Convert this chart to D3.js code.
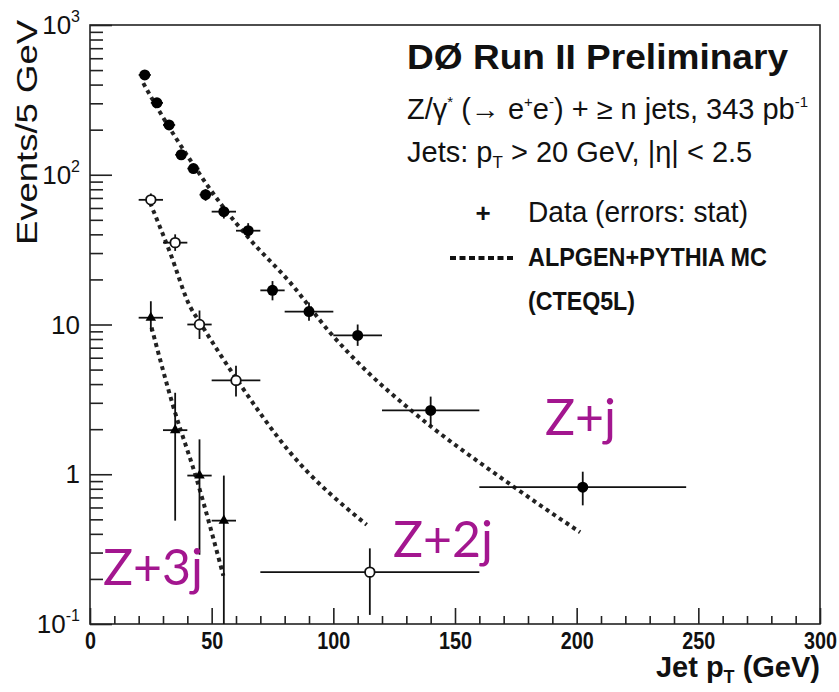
<!DOCTYPE html>
<html><head><meta charset="utf-8">
<script src="https://cdn.jsdelivr.net/npm/d3@7"></script>
<style>
html,body{margin:0;padding:0;background:#fff;}
svg{display:block;font-family:"Liberation Sans",Arial,sans-serif;}
</style></head>
<body><svg id="c" width="839" height="692"></svg>
<script>
// ---------- data ----------
// Z + >=1 jet (filled circles)
const z1X   = [22.5, 27.5, 32.5, 37.5, 42.5, 47.5, 55, 65, 75, 90, 110, 140, 202.5];
const z1XLo = [20, 25, 30, 35, 40, 45, 50, 60, 70, 80, 100, 120, 160];
const z1XHi = [25, 30, 35, 40, 45, 50, 60, 70, 80, 100, 120, 160, 245];
const z1Y   = [464, 302, 215, 136, 110, 73.6, 56.7, 42.3, 16.9, 12.2, 8.45, 2.67, 0.82];
const z1YLo = [440, 285, 202, 127, 102, 67, 51, 37.5, 14.5, 10.6, 7.2, 2.1, 0.62];
const z1YHi = [490, 320, 228, 146, 118, 80, 62, 47.5, 19.5, 14.0, 10.0, 3.3, 1.04];
// Z + >=2 jets (open circles)
const z2X   = [25, 35, 45, 60, 115];
const z2XLo = [20, 30, 40, 50, 70];
const z2XHi = [30, 40, 50, 70, 160];
const z2Y   = [68, 35.2, 10.0, 4.23, 0.222];
const z2YLo = [62, 31, 8.0, 3.3, 0.115];
const z2YHi = [75, 40, 12.4, 5.3, 0.32];
// Z + >=3 jets (small filled markers)
const z3X   = [25, 35, 45, 55];
const z3XLo = [20, 30, 40, 50];
const z3XHi = [30, 40, 50, 60];
const z3Y   = [11.1, 1.97, 0.98, 0.49];
const z3YLo = [9.0, 0.49, 0.29, 0.1];
const z3YHi = [14.3, 3.5, 1.71, 0.98];
// ALPGEN+PYTHIA MC curves
const mc1X = [21.9, 27.4, 41.1, 54.7, 65.8, 82.2, 98.6, 113.8, 131.5, 173.9, 201.4];
const mc1Y = [409, 285, 126, 61, 36.9, 19.1, 8.85, 4.86, 2.71, 0.83, 0.41];
const mc2X = [24.7, 32.9, 41.1, 45.2, 60.3, 82.2, 113.7];
const mc2Y = [65, 30.2, 13.2, 10.3, 4.3, 1.40, 0.46];
const mc3X = [25.3, 34.2, 43.8, 54.8];
const mc3Y = [9.55, 2.84, 0.93, 0.21];
// axes
const xMajor = [0, 50, 100, 150, 200, 250, 300];
const yMajor = [1000, 100, 10, 1, 0.1];
const yLabelBase = ["10", "10", "10", "1", "10"];
const yLabelSup  = ["3", "2", "", "", "-1"];
const labelNames = ["Z+j", "Z+2j", "Z+3j"];

// ---------- drawing ----------
const svg = d3.select("#c");
const L = 90, R = 820, T = 25, B = 624;
const x = d3.scaleLinear().domain([0, 300]).range([L, R]);
const y = d3.scaleLog().domain([0.1, 1000]).range([B, T]);

// x axis major + minor
const xMinor = d3.range(0, 301, 10).filter(v => v % 50 !== 0);
svg.append("g").attr("transform", `translate(0,${B})`)
  .call(d3.axisBottom(x).tickValues(xMinor).tickSizeInner(-8).tickSizeOuter(0).tickFormat(""));
const gx = svg.append("g").attr("transform", `translate(0,${B})`)
  .call(d3.axisBottom(x).tickValues(xMajor).tickSizeInner(-16).tickSizeOuter(0).tickPadding(9).tickFormat(d3.format("d")));
gx.selectAll("text").attr("font-size", 23).attr("font-weight", "bold")
  .attr("font-family", "'Liberation Sans',Arial,sans-serif").attr("fill", "#111")
  .attr("textLength", d => String(d).length * 11).attr("lengthAdjust", "spacingAndGlyphs");

// y axis
const yMinor = [];
[0.1, 1, 10, 100].forEach(d => { for (let k = 2; k <= 9; k++) yMinor.push(d * k); });
svg.append("g").attr("transform", `translate(${L},0)`)
  .call(d3.axisLeft(y).tickValues(yMinor).tickSizeInner(-13).tickSizeOuter(0).tickFormat(""));
svg.append("g").attr("transform", `translate(${L},0)`)
  .call(d3.axisLeft(y).tickValues(yMajor).tickSizeInner(-22).tickSizeOuter(0).tickFormat(""));
svg.selectAll(".domain").remove();
svg.selectAll(".tick line").attr("stroke", "#222").attr("stroke-width", 1.6);

yMajor.forEach((v, i) => {
  const t = svg.append("text").attr("x", 80).attr("y", y(v) + 9)
    .attr("text-anchor", "end").attr("font-size", 26).attr("fill", "#111");
  t.append("tspan").text(yLabelBase[i]);
  if (yLabelSup[i]) t.append("tspan").attr("dy", -12).attr("font-size", 16).text(yLabelSup[i]);
});

// frame
svg.append("rect").attr("x", L).attr("y", T).attr("width", R - L).attr("height", B - T)
  .attr("fill", "none").attr("stroke", "#222").attr("stroke-width", 1.6);

// axis titles
svg.append("text").attr("transform", "translate(37,20) rotate(-90)")
  .attr("text-anchor", "end").attr("font-size", 30).attr("fill", "#111")
  .attr("textLength", 225).attr("lengthAdjust", "spacingAndGlyphs").text("Events/5 GeV");
const xt = svg.append("text").attr("x", 820).attr("y", 677).attr("text-anchor", "end")
  .attr("font-size", 29).attr("font-weight", "bold").attr("fill", "#111");
xt.append("tspan").text("Jet p");
xt.append("tspan").attr("font-size", 18).attr("dy", 6).text("T");
xt.append("tspan").attr("dy", -6).text(" (GeV)");

// MC curves
const line = d3.line().x(d => x(d[0])).y(d => y(d[1])).curve(d3.curveMonotoneX);
[[mc1X, mc1Y], [mc2X, mc2Y], [mc3X, mc3Y]].forEach(([xs, ys]) => {
  svg.append("path").datum(xs.map((v, i) => [v, ys[i]]))
    .attr("d", line).attr("fill", "none").attr("stroke", "#222")
    .attr("stroke-width", 4).attr("stroke-dasharray", "4 4");
});

// data with error bars
function drawSeries(xs, xlo, xhi, ys, ylo, yhi, kind) {
  const g = svg.append("g");
  xs.forEach((v, i) => {
    g.append("line").attr("x1", x(xlo[i])).attr("x2", x(xhi[i]))
      .attr("y1", y(ys[i])).attr("y2", y(ys[i])).attr("stroke", "#111").attr("stroke-width", 1.8);
    g.append("line").attr("x1", x(v)).attr("x2", x(v))
      .attr("y1", y(ylo[i])).attr("y2", y(yhi[i])).attr("stroke", "#111").attr("stroke-width", 1.8);
    if (kind === "filled") {
      g.append("circle").attr("cx", x(v)).attr("cy", y(ys[i])).attr("r", 5.5).attr("fill", "#000");
    } else if (kind === "open") {
      g.append("circle").attr("cx", x(v)).attr("cy", y(ys[i])).attr("r", 4.8)
        .attr("fill", "#fff").attr("stroke", "#111").attr("stroke-width", 1.8);
    } else {
      g.append("path").attr("d", d3.symbol(d3.symbolTriangle, 48)())
        .attr("transform", `translate(${x(v)},${y(ys[i])})`).attr("fill", "#000");
    }
  });
}
drawSeries(z1X, z1XLo, z1XHi, z1Y, z1YLo, z1YHi, "filled");
drawSeries(z2X, z2XLo, z2XHi, z2Y, z2YLo, z2YHi, "open");
drawSeries(z3X, z3XLo, z3XHi, z3Y, z3YLo, z3YHi, "tri");

// legend / header texts
svg.append("text").attr("x", 407).attr("y", 69).attr("font-size", 35).attr("font-weight", "bold")
  .attr("fill", "#111").attr("textLength", 381).attr("lengthAdjust", "spacingAndGlyphs")
  .text("DØ Run II Preliminary");

const l2 = svg.append("text").attr("x", 407).attr("y", 119).attr("font-size", 29).attr("fill", "#111");
l2.append("tspan").text("Z/γ");
l2.append("tspan").attr("dy", -12).attr("font-size", 15).text("*");
l2.append("tspan").attr("dy", 12).text(" (→ e");
l2.append("tspan").attr("dy", -12).attr("font-size", 15).text("+");
l2.append("tspan").attr("dy", 12).text("e");
l2.append("tspan").attr("dy", -12).attr("font-size", 15).text("-");
l2.append("tspan").attr("dy", 12).text(") + ≥ n jets, 343 pb");
l2.append("tspan").attr("dy", -12).attr("font-size", 15).text("-1");

const l3 = svg.append("text").attr("x", 407).attr("y", 162).attr("font-size", 29).attr("fill", "#111");
l3.append("tspan").text("Jets: p");
l3.append("tspan").attr("dy", 6).attr("font-size", 17).text("T");
l3.append("tspan").attr("dy", -6).text(" > 20 GeV, |η| < 2.5");

svg.append("text").attr("x", 483).attr("y", 222).attr("text-anchor", "middle")
  .attr("font-size", 26).attr("font-weight", "bold").attr("fill", "#111").text("+");
svg.append("text").attr("x", 528).attr("y", 222).attr("font-size", 29).attr("fill", "#111")
  .attr("textLength", 220).attr("lengthAdjust", "spacingAndGlyphs").text("Data (errors: stat)");

svg.append("line").attr("x1", 450).attr("x2", 516).attr("y1", 258).attr("y2", 258)
  .attr("stroke", "#111").attr("stroke-width", 4).attr("stroke-dasharray", "6 3.5");
svg.append("text").attr("x", 528).attr("y", 266).attr("font-size", 25).attr("font-weight", "bold")
  .attr("fill", "#111").attr("textLength", 239).attr("lengthAdjust", "spacingAndGlyphs")
  .text("ALPGEN+PYTHIA MC");
svg.append("text").attr("x", 528).attr("y", 310).attr("font-size", 25).attr("font-weight", "bold")
  .attr("fill", "#111").attr("textLength", 107).attr("lengthAdjust", "spacingAndGlyphs")
  .text("(CTEQ5L)");

// magenta annotations
const annPos = [[545, 435], [393, 557], [103, 585]];
labelNames.forEach((s, i) => {
  svg.append("text").attr("x", annPos[i][0]).attr("y", annPos[i][1])
    .attr("font-family", "Lato,'Open Sans',sans-serif").attr("font-weight", 400)
    .attr("font-size", 50).attr("fill", "#a3168f").text(s);
});
</script></body></html>
